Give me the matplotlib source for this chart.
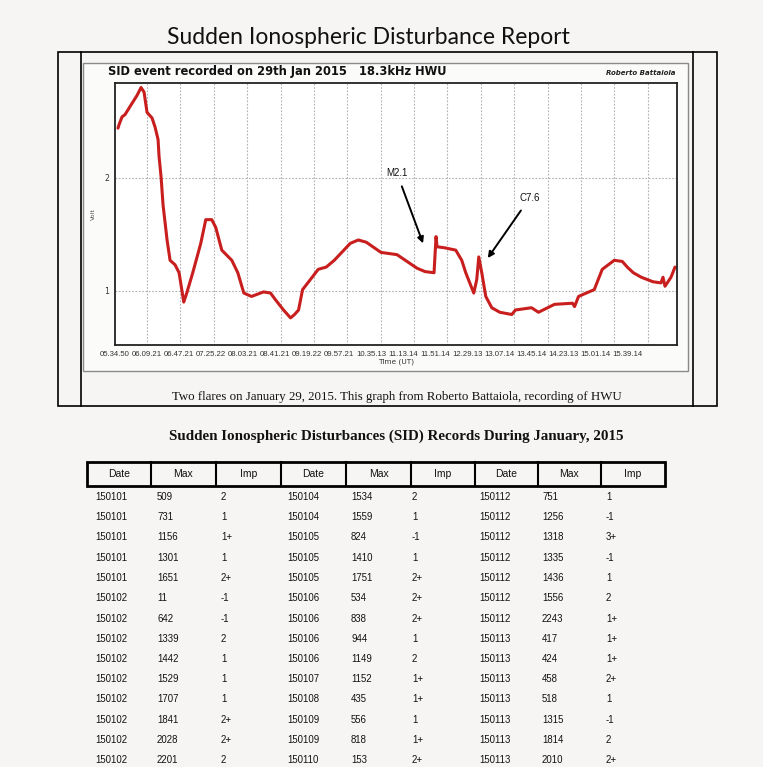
import matplotlib
matplotlib.use('Agg')
import matplotlib.pyplot as plt
import numpy as np

# SID trace (x in grid-interval units, y in Volt)
trace_x = [0.13, 0.16, 0.25, 0.34, 0.55, 0.70, 0.82, 0.91, 1.00, 1.15, 1.24, 1.33, 1.36, 1.42,
           1.48, 1.60, 1.69, 1.84, 1.96, 2.10, 2.19, 2.37, 2.61, 2.76, 2.94, 3.06, 3.24, 3.54,
           3.72, 3.90, 4.13, 4.49, 4.70, 4.85, 5.09, 5.30, 5.42, 5.54, 5.66, 6.13, 6.37, 6.61,
           7.09, 7.33, 7.57, 8.01, 8.49, 9.09, 9.33, 9.60, 9.66, 9.69, 9.93, 10.25, 10.43,
           10.55, 10.67, 10.79, 10.88, 10.94, 11.03, 11.15, 11.33, 11.57, 11.93, 12.04, 12.52,
           12.73, 13.21, 13.75, 13.81, 13.93, 14.16, 14.40, 14.64, 15.00, 15.24, 15.39, 15.57,
           15.81, 16.16, 16.40, 16.46, 16.52, 16.70, 16.82]
trace_v = [2.44, 2.47, 2.54, 2.56, 2.66, 2.73, 2.80, 2.76, 2.58, 2.53, 2.45, 2.34, 2.19, 2.01,
           1.76, 1.45, 1.27, 1.23, 1.16, 0.90, 0.98, 1.16, 1.42, 1.63, 1.63, 1.56, 1.36, 1.27,
           1.16, 0.98, 0.95, 0.99, 0.98, 0.92, 0.83, 0.76, 0.79, 0.83, 1.01, 1.19, 1.21, 1.27,
           1.42, 1.45, 1.43, 1.34, 1.32, 1.20, 1.17, 1.16, 1.48, 1.39, 1.38, 1.36, 1.27,
           1.16, 1.07, 0.98, 1.10, 1.30, 1.16, 0.95, 0.85, 0.81, 0.79, 0.83, 0.85,
           0.81, 0.88, 0.89, 0.86, 0.95, 0.98, 1.01, 1.19, 1.27, 1.26, 1.21, 1.16,
           1.12, 1.08, 1.07, 1.12, 1.04, 1.12, 1.21]

time_labels = ['05.34.50', '06.09.21', '06.47.21', '07.25.22', '08.03.21', '08.41.21',
               '09.19.22', '09.57.21', '10.35.13', '11.13.14', '11.51.14', '12.29.13',
               '13.07.14', '13.45.14', '14.23.13', '15.01.14', '15.39.14']

# flare annotations: label, arrow tip (x, v), text position (x, v)
flares = [('M2.1', (9.27, 1.42), (8.49, 2.04)),
          ('C7.6', (11.21, 1.29), (12.46, 1.82))]

# SID records table, three column groups
dates1 = ['150101', '150101', '150101', '150101', '150101', '150102', '150102',
          '150102', '150102', '150102', '150102', '150102', '150102', '150102']
max1 = ['509', '731', '1156', '1301', '1651', '11', '642', '1339', '1442', '1529',
        '1707', '1841', '2028', '2201']
imp1 = ['2', '1', '1+', '1', '2+', '-1', '-1', '2', '1', '1', '1', '2+', '2+', '2']
dates2 = ['150104', '150104', '150105', '150105', '150105', '150106', '150106',
          '150106', '150106', '150107', '150108', '150109', '150109', '150110']
max2 = ['1534', '1559', '824', '1410', '1751', '534', '838', '944', '1149', '1152',
        '435', '556', '818', '153']
imp2 = ['2', '1', '-1', '1', '2+', '2+', '2+', '1', '2', '1+', '1+', '1', '1+', '2+']
dates3 = ['150112', '150112', '150112', '150112', '150112', '150112', '150112',
          '150113', '150113', '150113', '150113', '150113', '150113', '150113']
max3 = ['751', '1256', '1318', '1335', '1436', '1556', '2243', '417', '424', '458',
        '518', '1315', '1814', '2010']
imp3 = ['1', '-1', '3+', '-1', '1', '2', '1+', '1+', '1+', '2+', '1', '-1', '2', '2+']

bg = '#f6f5f3'
W, H = 763, 767
fig = plt.figure(figsize=(W / 100, H / 100), dpi=100, facecolor=bg)

#########################################################################
# page layer in pixel coordinates
#########################################################################
page = fig.add_axes([0, 0, 1, 1])
page.set_xlim(0, W)
page.set_ylim(H, 0)
page.axis('off')

page.text(368, 38, 'Sudden Ionospheric Disturbance Report', ha='center', va='center',
          fontsize=16.5, family='Lato', color='#111111')

# outer frame of the figure block
page.add_patch(plt.Rectangle((58, 52), 659, 354, fill=False, ec='black', lw=1.2))
page.plot([81, 81], [52, 406], color='black', lw=1.2)
page.plot([693, 693], [52, 406], color='black', lw=1.2)
# screenshot box
page.add_patch(plt.Rectangle((83, 63), 605, 308, fc='#fbfbfa', ec='#8a8a8a', lw=1))

page.text(108, 72, 'SID event recorded on 29th Jan 2015   18.3kHz HWU', ha='left', va='center',
          fontsize=8.3, fontweight='bold', family='DejaVu Sans', color='#111111')
page.text(675, 73, 'Roberto Battaiola', ha='right', va='center', fontsize=5,
          fontweight='bold', fontstyle='italic', color='#222222')

page.text(397, 397, 'Two flares on January 29, 2015. This graph from Roberto Battaiola, recording of HWU',
          ha='center', va='center', fontsize=9.3, family='Liberation Serif', color='#111111')

page.text(396, 436, 'Sudden Ionospheric Disturbances (SID) Records During January, 2015',
          ha='center', va='center', fontsize=10.8, fontweight='bold',
          family='Liberation Serif', color='#111111')

# table header
col_edges = [87, 151, 216, 281, 346, 411, 475, 538, 601, 665]
page.add_patch(plt.Rectangle((87, 462), 578, 24, fill=False, ec='black', lw=2))
for xe in col_edges[1:-1]:
    page.plot([xe, xe], [462, 486], color='black', lw=1.5)
for i, name in enumerate(['Date', 'Max', 'Imp'] * 3):
    page.text((col_edges[i] + col_edges[i + 1]) / 2, 474, name, ha='center', va='center',
              fontsize=7.5, family='Liberation Sans', color='#111111')

# table rows
col_x = [95, 157, 221, 287, 351, 412, 479, 542, 606]
columns = [dates1, max1, imp1, dates2, max2, imp2, dates3, max3, imp3]
for cx, col in zip(col_x, columns):
    for r, val in enumerate(col):
        page.text(cx, 497 + r * 20.25, val, ha='left', va='center', fontsize=6.9,
                  family='Liberation Sans', color='#111111')

#########################################################################
# SID chart
#########################################################################
ax = fig.add_axes([115 / W, 1 - 345 / H, (677 - 115) / W, (345 - 83) / H])
ax.set_facecolor('white')
ax.plot(trace_x, trace_v, color='#c81e1e', lw=2.2, solid_capstyle='round')
ax.set_xlim(0.10, 16.88)
ax.set_ylim(0.52, 2.84)

# dotted grid
for k in range(1, 17):
    ax.axvline(k, color='#b0b0b0', lw=0.8, ls=(0, (1.5, 1.5)), zorder=0)
for v in [1, 2]:
    ax.axhline(v, color='#b0b0b0', lw=0.8, ls=(0, (1.5, 1.5)), zorder=0)

ax.set_xticks([0.04 + 0.96 * i for i in range(len(time_labels))])
ax.set_xticklabels(time_labels, fontsize=5.6, color='#333333', family='Liberation Sans')
ax.set_yticks([1, 2])
ax.set_yticklabels(['1', '2'], fontsize=5.6, color='#333333')
ax.tick_params(length=0, pad=4)
ax.set_xlabel('Time (UT)', fontsize=5.3, color='#333333', labelpad=1)
ax.set_ylabel('Volt', fontsize=4.5, color='#555555', labelpad=6)
for s in ax.spines.values():
    s.set_linewidth(1.3)
    s.set_color('#222222')

for name, tip, txt in flares:
    ax.annotate(name, xy=tip, xytext=txt, ha='center', va='center', fontsize=7,
                family='Liberation Sans', color='#111111',
                arrowprops=dict(arrowstyle='-|>', color='black', lw=1.4, shrinkA=4, shrinkB=0,
                                mutation_scale=9))

plt.savefig('out.png', dpi=100, facecolor=bg)
